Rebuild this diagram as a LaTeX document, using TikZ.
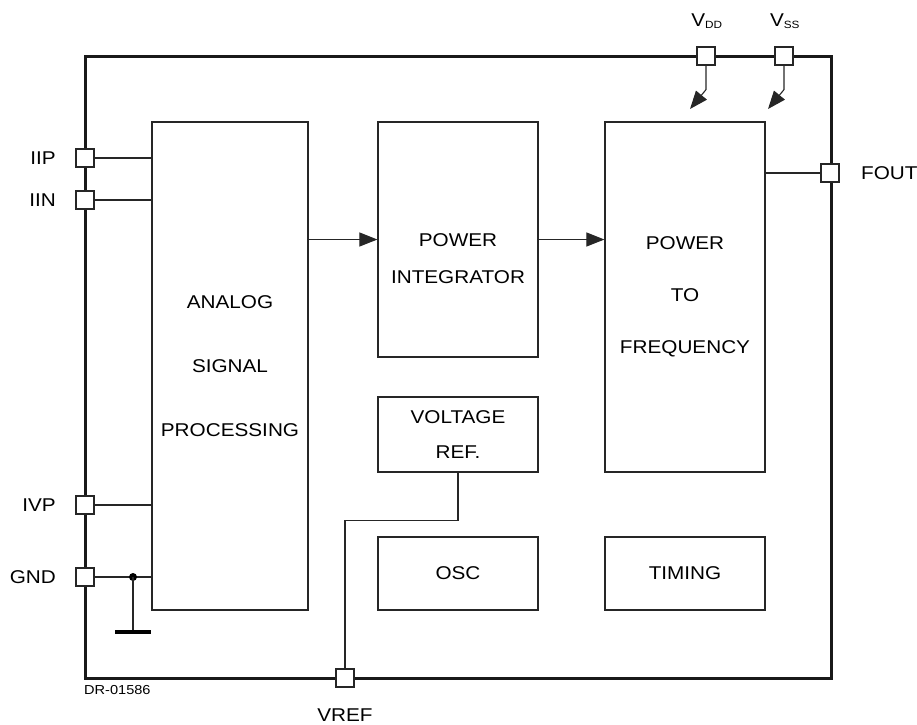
\documentclass[tikz,border=0pt]{standalone}
\usepackage{fontspec}
\setmainfont{Liberation Sans}[FakeStretch=1.12]
\usetikzlibrary{arrows.meta}

\tikzset{
    blk/.style={draw=black!85,line width=1.2pt,align=center,inner sep=0pt},
    pinsq/.style={draw=black!85,fill=white,line width=1.2pt,minimum size=18pt,inner sep=0pt},
    wire/.style={black!85,line width=1.1pt},
    flow/.style={wire,-{Triangle[length=18pt,width=14pt]}},
    lbl/.style={inner sep=0pt,font=\fontsize{18.5}{22}\selectfont}
}

\begin{document}
\begin{tikzpicture}[x=1pt,y=-1pt,font=\fontsize{18.5}{22}\selectfont]
                \useasboundingbox (0,0) rectangle (917,724);
                \draw[line width=3pt,black!90] (85,56) rectangle (831,678);
                \node[blk,minimum width=156pt,minimum height=488pt] (asp) at (230,366) {ANALOG\\[42pt]SIGNAL\\[42pt]PROCESSING};
                \node[blk,minimum width=160pt,minimum height=235pt] (pint) at (458,239.5) {};
                \node[lbl,align=center] (pinttxt) at (458,259) {POWER\\[15pt]INTEGRATOR};
                \node[blk,minimum width=160pt,minimum height=350pt] (ptf) at (685,297) {POWER\\[30pt]TO\\[30pt]FREQUENCY};
                \node[blk,minimum width=160pt,minimum height=75pt] (vrefblk) at (458,434.5) {VOLTAGE\\[13pt]REF.};
                \node[blk,minimum width=160pt,minimum height=73pt] (osc) at (458,573.5) {OSC};
                \node[blk,minimum width=160pt,minimum height=73pt] (timing) at (685,573.5) {TIMING};
                \node[pinsq] (iip) at (85,158) {};
                \node[pinsq] (iin) at (85,200) {};
                \node[pinsq] (ivp) at (85,505) {};
                \node[pinsq] (gnd) at (85,577) {};
                \node[pinsq] (vdd) at (706,56) {};
                \node[pinsq] (vss) at (784,56) {};
                \node[pinsq] (fout) at (830,173) {};
                \node[pinsq] (vrefpin) at (345,678) {};
                \node[lbl,anchor=east] (iiplbl) at (56,158) {IIP};
                \node[lbl,anchor=east] (iinlbl) at (56,200) {IIN};
                \node[lbl,anchor=east] (ivplbl) at (56,505) {IVP};
                \node[lbl,anchor=east] (gndlbl) at (56,577) {GND};
                \node[lbl,anchor=west] (foutlbl) at (861,173) {FOUT};
                \node[lbl] (vreflbl) at (345,715) {VREF};
                \node[lbl] (vddlbl) at (707,21) {V\textsubscript{\fontsize{10.5}{12}\selectfont DD}};
                \node[lbl] (vsslbl) at (785,21) {V\textsubscript{\fontsize{10.5}{12}\selectfont SS}};
                \node[lbl,anchor=west,font=\fontsize{13}{15}\selectfont] (drno) at (84,690) {DR-01586};
                \draw[wire] (iip) -- (iip -| asp.west);
                \draw[wire] (iin) -- (iin -| asp.west);
                \draw[wire] (ivp) -- (ivp -| asp.west);
                \coordinate (gdot) at (133,577);
                \coordinate (gbar) at (133,632);
                \draw[wire] (gnd) -- (gnd -| asp.west);
                \fill (gdot) circle (4);
                \draw[wire] (gdot) -- (gbar);
                \draw[line width=4pt] ([xshift=-18pt]gbar) -- ([xshift=18pt]gbar);
                \draw[flow] (asp.east |- pint.west) -- (pint.west);
                \draw[flow] (pint.east) -- (pint.east -| ptf.west);
                \draw[wire] (ptf.east |- fout) -- (fout);
                \draw[wire] (vrefblk.south) -- ++(0,48) -| (vrefpin.north);
                \coordinate (vddtip) at (690,109);
                \coordinate (vsstip) at (768,109);
                \draw[flow] (vdd.south) -- ++(0,24) -- (vddtip);
                \draw[flow] (vss.south) -- ++(0,24) -- (vsstip);
            \end{tikzpicture}
\end{document}
